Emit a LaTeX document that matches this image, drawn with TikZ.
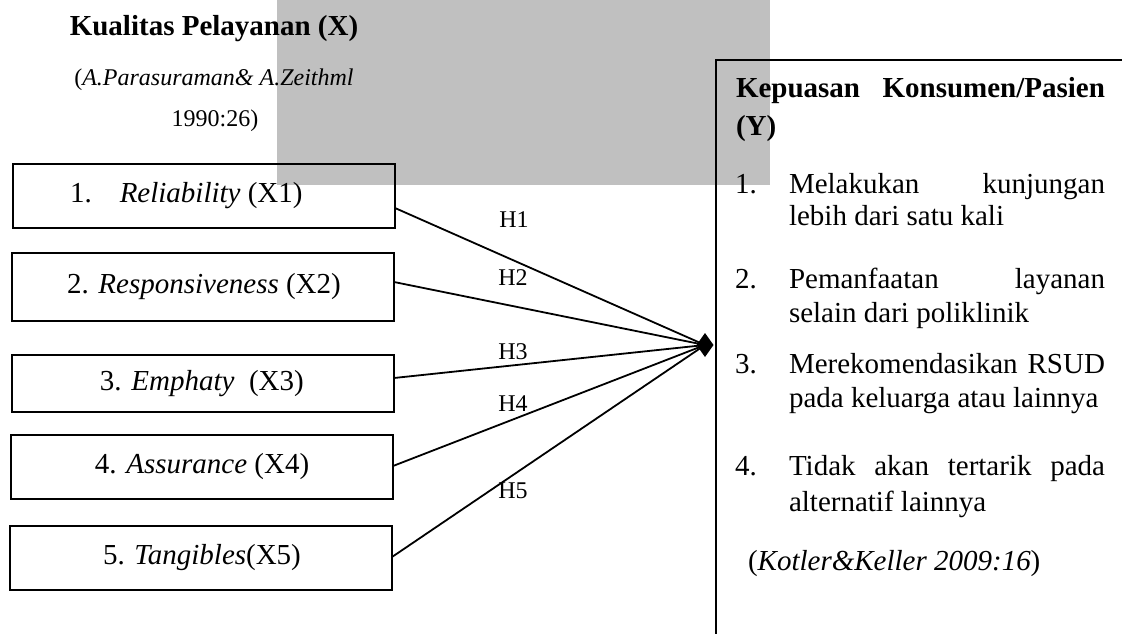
\documentclass[tikz,border=0pt]{standalone}
\usepackage{fontspec}
\setmainfont{Liberation Serif}
\usetikzlibrary{shapes.geometric}
\definecolor{wmgray}{RGB}{192,192,192}
\begin{document}
\begin{tikzpicture}[x=1pt,y=-1pt,
  every node/.style={inner sep=0pt, outer sep=0pt},
  big/.style={font=\fontsize{29}{34}\selectfont},
  bigb/.style={font=\fontsize{29}{34}\selectfont\bfseries},
  small/.style={font=\fontsize{24}{28}\selectfont},
  varbox/.style={draw, line width=2.1pt, minimum width=382pt, anchor=west,
                 font=\fontsize{29}{34}\selectfont},
  conn/.style={line width=1.8pt},
  txt/.style={anchor=base west, big},
  lbl/.style={small}]
  % page and shaded band
  \fill[white] (0,0) rectangle (1122,634);
  \useasboundingbox (0,0) rectangle (1122,634);
  \clip (0,0) rectangle (1122,634);
  \fill[wmgray] (277,0) rectangle (770,185);

  % independent variable heading
  \node[bigb, anchor=base] (xt) at (214,36) {Kualitas Pelayanan (X)};
  \node[small, anchor=base] (xc1) at (214,85) {(\textit{A.Parasuraman\& A.Zeithml}};
  \node[small, anchor=base] (xc2) at (215,126) {1990:26)};

  % dimension boxes
  \node[varbox, minimum height=64pt] (b1) at (13,196)
    {\makebox[382pt][l]{\hspace{57pt}1.\hspace{28pt}\textit{Reliability} (X1)}};
  \node[varbox, minimum height=68pt] (b2) at (12,287)
    {\makebox[382pt][l]{\hspace{55pt}2. \textit{Responsiveness} (X2)}};
  \node[varbox, minimum height=57pt] (b3) at (12,383.5)
    {\makebox[382pt][l]{\hspace{88pt}3. \textit{Emphaty}\ \ (X3)}};
  \node[varbox, minimum height=64pt] (b4) at (11,467)
    {\makebox[382pt][l]{\hspace{84pt}4. \textit{Assurance} (X4)}};
  \node[varbox, minimum height=64pt] (b5) at (10,558)
    {\makebox[382pt][l]{\hspace{93pt}5. \textit{Tangibles}(X5)}};

  % dependent variable frame
  \node[draw, line width=2.4pt, anchor=north west, minimum width=500pt,
        minimum height=650pt] (kp) at (716,60) {};

  % meeting point
  \node[diamond, fill=black, minimum width=17pt, minimum height=24pt] (dm) at (705,345) {};

  % hypothesis paths
  \draw[conn] ([yshift=-12pt]b1.east) -- (dm.center);
  \draw[conn] ([yshift=5pt]b2.east) -- (dm.center);
  \draw[conn] ([yshift=5.5pt]b3.east) -- (dm.center);
  \draw[conn] ([yshift=1pt]b4.east) -- (dm.center);
  \draw[conn] ([yshift=1pt]b5.east) -- (dm.center);
  \node[lbl] (h1) at (514,220) {H1};
  \node[lbl] (h2) at (513,278) {H2};
  \node[lbl] (h3) at (513,352) {H3};
  \node[lbl] (h4) at (513,404) {H4};
  \node[lbl] (h5) at (513,491) {H5};

  % indicators of satisfaction
  \node[txt, bigb] (yt1) at (736,97) {\makebox[369pt][l]{Kepuasan\hfill Konsumen/Pasien}};
  \node[txt, bigb] (yt2) at (736,135) {(Y)};

  \node[txt] (n1) at (735,193) {1.};
  \node[txt] (i1a) at (789,193) {\makebox[316pt][l]{Melakukan\hfill kunjungan}};
  \node[txt] (i1b) at (789,225) {lebih dari satu kali};

  \node[txt] (n2) at (735,288) {2.};
  \node[txt] (i2a) at (789,288) {\makebox[316pt][l]{Pemanfaatan\hfill layanan}};
  \node[txt] (i2b) at (789,322) {selain dari poliklinik};

  \node[txt] (n3) at (735,373) {3.};
  \node[txt] (i3a) at (789,373) {\makebox[316pt][l]{Merekomendasikan\hfill RSUD}};
  \node[txt] (i3b) at (789,407) {\makebox[316pt][l]{pada keluarga atau lainnya}};

  \node[txt] (n4) at (735,475) {4.};
  \node[txt] (i4a) at (789,475) {\makebox[316pt][l]{Tidak\hfill akan\hfill tertarik\hfill pada}};
  \node[txt] (i4b) at (789,511) {alternatif lainnya};

  \node[txt] (yc) at (748,570) {(\textit{Kotler\&Keller 2009:16})};
\end{tikzpicture}
\end{document}
